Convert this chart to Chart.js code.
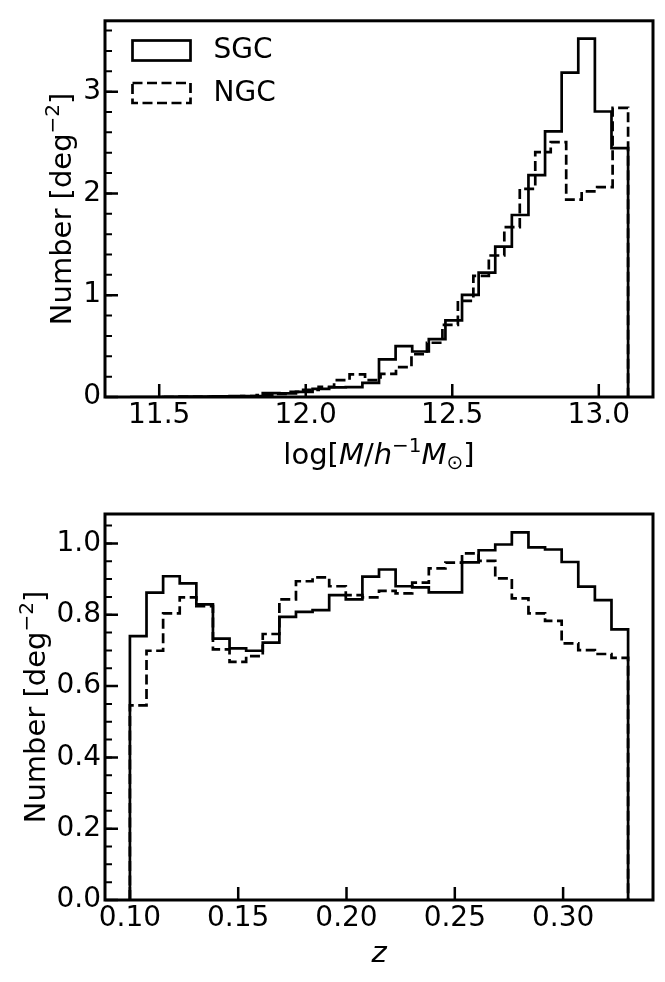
<!DOCTYPE html>
<html>
<head>
<meta charset="utf-8">
<script src="https://cdn.jsdelivr.net/npm/chart.js@4.4.1/dist/chart.umd.min.js"></script>
<style>
  html, body { margin: 0; padding: 0; background: #fff; }
  #wrap { position: relative; width: 665px; height: 982px; }
  .panel { position: absolute; left: 0; width: 665px; height: 491px; }
</style>
</head>
<body>
<div id="wrap">
  <div class="panel" style="top:0"><canvas id="massChart" width="665" height="491"></canvas></div>
  <div class="panel" style="top:491px"><canvas id="zChart" width="665" height="491"></canvas></div>
</div>
<script>
// ---- data ----
// top panel: halo mass histograms, 30 bins each
var seriesNames = ['SGC', 'NGC'];
var massRangeSGC = [11.4, 13.1];
var massRangeNGC = [11.516, 13.1];
var sgcMass = [0, 0, 0.002, 0.003, 0.004, 0.006, 0.008, 0.010, 0.038, 0.035,
               0.050, 0.080, 0.095, 0.098, 0.138, 0.370, 0.500, 0.447, 0.568, 0.752,
               1.003, 1.222, 1.478, 1.788, 2.179, 2.610, 3.186, 3.520, 2.805, 2.446];
var ngcMass = [0, 0.001, 0.002, 0.004, 0.006, 0.010, 0.018, 0.030, 0.050, 0.070,
               0.100, 0.166, 0.223, 0.166, 0.228, 0.294, 0.420, 0.533, 0.709, 0.945,
               1.190, 1.390, 1.668, 2.045, 2.405, 2.505, 1.940, 2.020, 2.061, 2.841];
var massXTicks = [11.5, 12.0, 12.5, 13.0];
var massYTicks = [0, 1, 2, 3];

// bottom panel: redshift histograms, 30 bins each
var zRange = [0.10, 0.33];
var sgcZ = [0.740, 0.862, 0.908, 0.888, 0.829, 0.733, 0.706, 0.699, 0.722, 0.794,
            0.808, 0.813, 0.855, 0.843, 0.907, 0.927, 0.880, 0.877, 0.863, 0.863,
            0.947, 0.981, 0.997, 1.031, 0.989, 0.983, 0.948, 0.879, 0.841, 0.759];
var ngcZ = [0.546, 0.699, 0.804, 0.849, 0.824, 0.703, 0.668, 0.684, 0.746, 0.843,
            0.894, 0.905, 0.880, 0.855, 0.849, 0.867, 0.860, 0.890, 0.930, 0.946,
            0.972, 0.951, 0.902, 0.846, 0.804, 0.783, 0.720, 0.701, 0.690, 0.679];
var zXTicks = [0.10, 0.15, 0.20, 0.25, 0.30];
var zYTicks = [0.0, 0.2, 0.4, 0.6, 0.8, 1.0];

Chart.defaults.font.family = "'DejaVu Sans', sans-serif";
Chart.defaults.color = '#000';
Chart.defaults.animation = false;

var BIG = "29px 'DejaVu Sans'";
var BIG_IT = "italic 29px 'DejaVu Sans'";
var SMALL = "20px 'DejaVu Sans'";

// turn bin range + counts into the outline of a step histogram
function stepOutline(range, counts) {
    var n = counts.length;
    var w = (range[1] - range[0]) / n;
    var pts = [{x: range[0], y: 0}];
    for (var i = 0; i < n; i++) {
        pts.push({x: range[0] + i * w, y: counts[i]});
    }
    pts.push({x: range[1], y: 0});
    return pts;
}

function histDataset(label, range, counts, dashed) {
    return {
        label: label,
        data: stepOutline(range, counts),
        showLine: true,
        stepped: 'before',
        borderColor: '#000',
        backgroundColor: 'rgba(0,0,0,0)',
        borderWidth: 2.7,
        borderDash: dashed ? [10, 4.5] : [],
        borderJoinStyle: 'miter',
        borderCapStyle: 'butt',
        pointRadius: 0,
        fill: false
    };
}

// draw a run of text pieces (mathtext-ish), centred on x, on baseline y
function drawPieces(ctx, parts, cx, base) {
    var total = 0;
    parts.forEach(function(p) { ctx.font = p.f; p.w = ctx.measureText(p.t).width; total += p.w; });
    var x = cx - total / 2;
    parts.forEach(function(p) {
        ctx.font = p.f;
        ctx.fillText(p.t, x, base + p.dy);
        x += p.w;
    });
}

// axes frame + inward ticks
var frameTicks = {
    id: 'frameTicks',
    afterDraw: function(chart, args, opts) {
        var ctx = chart.ctx, a = chart.chartArea;
        var xs = chart.scales.x, ys = chart.scales.y;
        ctx.save();
        ctx.strokeStyle = '#000';
        ctx.lineCap = 'butt';
        // minor y ticks
        ctx.lineWidth = 2;
        ctx.beginPath();
        for (var i = 0; i * opts.yMinor <= ys.max + 1e-9; i++) {
            var py = ys.getPixelForValue(i * opts.yMinor);
            ctx.moveTo(a.left, py);
            ctx.lineTo(a.left + 7, py);
        }
        ctx.stroke();
        // major ticks
        ctx.lineWidth = 2.5;
        ctx.beginPath();
        xs.ticks.forEach(function(t) {
            var px = xs.getPixelForValue(t.value);
            ctx.moveTo(px, a.bottom);
            ctx.lineTo(px, a.bottom - 13);
        });
        ys.ticks.forEach(function(t) {
            var py = ys.getPixelForValue(t.value);
            ctx.moveTo(a.left, py);
            ctx.lineTo(a.left + 13, py);
        });
        ctx.stroke();
        ctx.lineWidth = 3;
        ctx.strokeRect(a.left, a.top, a.right - a.left, a.bottom - a.top);
        ctx.restore();
    }
};

// legend drawn inside the top-left corner of the axes
var innerLegend = {
    id: 'innerLegend',
    afterDraw: function(chart, args, opts) {
        if (!opts.show) return;
        var ctx = chart.ctx;
        ctx.save();
        ctx.font = "28px 'DejaVu Sans'";
        ctx.fillStyle = '#000';
        ctx.strokeStyle = '#000';
        ctx.lineWidth = 2.7;
        ctx.textBaseline = 'middle';
        chart.data.datasets.forEach(function(ds, k) {
            var top = opts.top + k * opts.rowGap;
            ctx.setLineDash(ds.borderDash);
            ctx.strokeRect(opts.left, top, opts.boxW, opts.boxH);
            ctx.setLineDash([]);
            ctx.fillText(ds.label, opts.left + opts.boxW + 23, top + opts.boxH / 2 + 0.5);
        });
        ctx.restore();
    }
};

// axis titles with italics / superscripts
var axisTitles = {
    id: 'axisTitles',
    afterDraw: function(chart, args, opts) {
        var ctx = chart.ctx, a = chart.chartArea;
        ctx.save();
        ctx.fillStyle = '#000';
        ctx.textBaseline = 'alphabetic';
        // y title, rotated
        ctx.save();
        ctx.translate(opts.yBaseX, (a.top + a.bottom) / 2);
        ctx.rotate(-Math.PI / 2);
        drawPieces(ctx, [
            {t: 'Number [deg', f: BIG, dy: 0},
            {t: '\u22122', f: SMALL, dy: -12},
            {t: ']', f: BIG, dy: 0}
        ], 0, 0);
        ctx.restore();
        // x title
        var parts;
        if (opts.xTitle === 'mass') {
            parts = [
                {t: 'log[', f: BIG, dy: 0},
                {t: 'M', f: BIG_IT, dy: 0},
                {t: '/', f: BIG, dy: 0},
                {t: 'h', f: BIG_IT, dy: 0},
                {t: '\u22121', f: SMALL, dy: -12},
                {t: 'M', f: BIG_IT, dy: 0},
                {t: '\u2299', f: SMALL, dy: 5},
                {t: ']', f: BIG, dy: 0}
            ];
        } else {
            parts = [{t: 'z', f: BIG_IT, dy: 0}];
        }
        drawPieces(ctx, parts, (a.left + a.right) / 2, a.bottom + opts.xBaseOffset);
        ctx.restore();
    }
};

function makeOptions(cfg) {
    return {
        responsive: false,
        animation: false,
        layout: {padding: {top: cfg.padTop, right: 12, left: 0, bottom: 0}},
        plugins: {
            legend: {display: false},
            tooltip: {enabled: false},
            frameTicks: {yMinor: cfg.yMinor},
            innerLegend: cfg.legend,
            axisTitles: {yBaseX: cfg.yBaseX, xTitle: cfg.xTitle, xBaseOffset: cfg.xBaseOffset}
        },
        scales: {
            x: {
                type: 'linear',
                min: cfg.xMin,
                max: cfg.xMax,
                grid: {display: false, drawTicks: false},
                border: {display: false},
                afterBuildTicks: function(s) { s.ticks = cfg.xTicks.map(function(v) { return {value: v}; }); },
                afterFit: function(s) { s.height = cfg.xHeight; },
                ticks: {
                    padding: 2,
                    autoSkip: false,
                    maxRotation: 0,
                    font: {size: 28},
                    callback: function(v) { return Number(v).toFixed(cfg.xDigits); }
                }
            },
            y: {
                type: 'linear',
                min: 0,
                max: cfg.yMax,
                grid: {display: false, drawTicks: false},
                border: {display: false},
                afterBuildTicks: function(s) { s.ticks = cfg.yTicks.map(function(v) { return {value: v}; }); },
                afterFit: function(s) { s.width = 105; },
                ticks: {
                    padding: 4,
                    autoSkip: false,
                    font: {size: 28},
                    callback: function(v) { return Number(v).toFixed(cfg.yDigits); }
                }
            }
        }
    };
}

var massChart = new Chart(document.getElementById('massChart').getContext('2d'), {
    type: 'scatter',
    data: {
        datasets: [
            histDataset(seriesNames[0], massRangeSGC, sgcMass, false),
            histDataset(seriesNames[1], massRangeNGC, ngcMass, true)
        ]
    },
    options: makeOptions({
        padTop: 13, xMin: 11.315, xMax: 13.185, yMax: 3.696, xHeight: 94,
        xTicks: massXTicks, yTicks: massYTicks, xDigits: 1, yDigits: 0, yMinor: 0.2,
        yBaseX: 71, xTitle: 'mass', xBaseOffset: 67,
        legend: {show: true, left: 132.5, top: 40.5, boxW: 58, boxH: 20, rowGap: 42.5}
    }),
    plugins: [frameTicks, innerLegend, axisTitles]
});

var zChart = new Chart(document.getElementById('zChart').getContext('2d'), {
    type: 'scatter',
    data: {
        datasets: [
            histDataset(seriesNames[0], zRange, sgcZ, false),
            histDataset(seriesNames[1], zRange, ngcZ, true)
        ]
    },
    options: makeOptions({
        padTop: 23, xMin: 0.0885, xMax: 0.3415, yMax: 1.0826, xHeight: 82,
        xTicks: zXTicks, yTicks: zYTicks, xDigits: 2, yDigits: 1, yMinor: 0.05,
        yBaseX: 45, xTitle: 'z', xBaseOffset: 62,
        legend: {show: false}
    }),
    plugins: [frameTicks, innerLegend, axisTitles]
});
</script>
</body>
</html>
